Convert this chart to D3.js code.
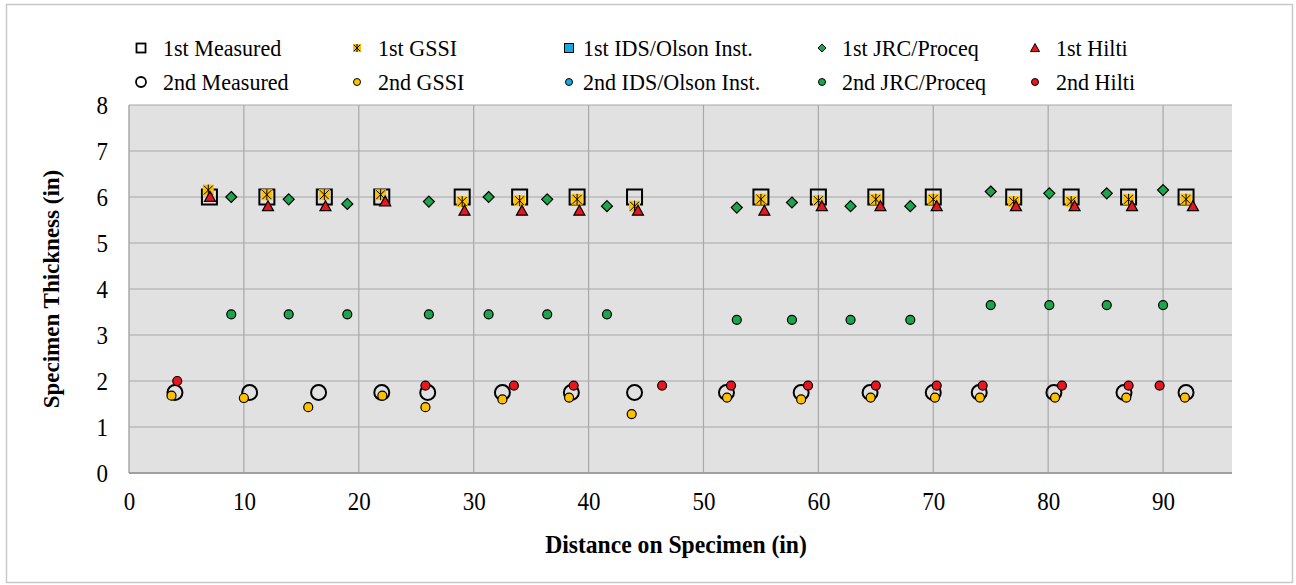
<!DOCTYPE html>
<html>
<head>
<meta charset="utf-8">
<script src="https://cdn.jsdelivr.net/npm/d3@7/dist/d3.min.js"></script>
<style>
  html, body { margin: 0; padding: 0; background: #ffffff; }
  svg { display: block; }
  text { font-family: "Liberation Serif", "Times New Roman", "DejaVu Serif", serif; fill: #000; }
</style>
</head>
<body>
<svg id="chart" width="1296" height="585"></svg>
<script>
// ---------- data ----------
const xTicks = [0, 10, 20, 30, 40, 50, 60, 70, 80, 90];
const yTicks = [0, 1, 2, 3, 4, 5, 6, 7, 8];

const measured1X = [7, 12, 17, 22, 29, 34, 39, 44, 55, 60, 65, 70, 77, 82, 87, 92];
const measured1Y = [6, 6, 6, 6, 6, 6, 6, 6, 6, 6, 6, 6, 6, 6, 6, 6];

const gssi1X = [6.9, 12, 17, 21.9, 29, 34, 39, 44, 55, 60, 65, 70, 77, 82, 87, 92];
const gssi1Y = [6.15, 6.05, 6.05, 6.05, 5.9, 5.92, 5.95, 5.8, 5.95, 5.92, 5.95, 5.95, 5.9, 5.9, 5.95, 5.95];

const ids1X = [];
const ids1Y = [];

const jrc1X = [8.9, 13.9, 19.0, 26.1, 31.3, 36.4, 41.6, 52.9, 57.7, 62.8, 68.0, 75.0, 80.1, 85.1, 90.0];
const jrc1Y = [6.0, 5.95, 5.85, 5.9, 6.0, 5.95, 5.8, 5.77, 5.88, 5.8, 5.8, 6.12, 6.08, 6.08, 6.15];

const hilti1X = [7.05, 12.1, 17.1, 22.3, 29.2, 34.2, 39.2, 44.3, 55.3, 60.3, 65.4, 70.3, 77.2, 82.3, 87.3, 92.6];
const hilti1Y = [6.0, 5.8, 5.8, 5.9, 5.7, 5.7, 5.7, 5.7, 5.7, 5.8, 5.8, 5.8, 5.8, 5.8, 5.8, 5.8];

const measured2X = [4, 10.5, 16.5, 22, 26, 32.5, 38.5, 44, 52, 58.5, 64.5, 70, 74, 80.5, 86.6, 92];
const measured2Y = [1.75, 1.75, 1.75, 1.75, 1.75, 1.75, 1.75, 1.75, 1.75, 1.75, 1.75, 1.75, 1.75, 1.75, 1.75, 1.75];

const gssi2X = [3.7, 10.0, 15.6, 22.05, 25.8, 32.5, 38.3, 43.75, 52.05, 58.5, 64.55, 70.15, 74.06, 80.6, 86.8, 91.9];
const gssi2Y = [1.68, 1.63, 1.43, 1.68, 1.43, 1.6, 1.64, 1.28, 1.64, 1.6, 1.64, 1.64, 1.64, 1.64, 1.64, 1.64];

const ids2X = [];
const ids2Y = [];

const jrc2X = [8.9, 13.9, 19.0, 26.1, 31.3, 36.4, 41.6, 52.9, 57.7, 62.8, 68.0, 75.0, 80.1, 85.1, 90.0];
const jrc2Y = [3.45, 3.45, 3.45, 3.45, 3.45, 3.45, 3.45, 3.33, 3.33, 3.33, 3.33, 3.65, 3.65, 3.65, 3.65];

const hilti2X = [4.2, 25.8, 33.5, 38.7, 46.4, 52.4, 59.1, 65.0, 70.3, 74.3, 81.2, 87.0, 89.7];
const hilti2Y = [2.0, 1.9, 1.9, 1.9, 1.9, 1.9, 1.9, 1.9, 1.9, 1.9, 1.9, 1.9, 1.9];

const seriesNames = ["1st Measured", "1st GSSI", "1st IDS/Olson Inst.", "1st JRC/Proceq", "1st Hilti",
                     "2nd Measured", "2nd GSSI", "2nd IDS/Olson Inst.", "2nd JRC/Proceq", "2nd Hilti"];

// ---------- styles ----------
const FONT = '"Liberation Serif", "Times New Roman", "DejaVu Serif", serif';
const YELLOW = "#ffc000", GREEN = "#1ca64c", RED = "#e8161e", BLUE = "#18a8e0";

const series = [
  { name: seriesNames[0], xs: measured1X, ys: measured1Y, shape: "square", fill: "none", size: 15, lsize: 9, sw: 2 },
  { name: seriesNames[1], xs: gssi1X, ys: gssi1Y, shape: "star", fill: YELLOW, size: 11, lsize: 8, sw: 1 },
  { name: seriesNames[2], xs: ids1X, ys: ids1Y, shape: "square", fill: BLUE, size: 11, lsize: 9, sw: 1 },
  { name: seriesNames[3], xs: jrc1X, ys: jrc1Y, shape: "diamond", fill: GREEN, size: 11, lsize: 8, sw: 1.2 },
  { name: seriesNames[4], xs: hilti1X, ys: hilti1Y, shape: "triangle", fill: RED, size: 11, lsize: 9, sw: 1.2 },
  { name: seriesNames[5], xs: measured2X, ys: measured2Y, shape: "circle", fill: "none", size: 15, lsize: 10, sw: 2 },
  { name: seriesNames[6], xs: gssi2X, ys: gssi2Y, shape: "circle", fill: YELLOW, size: 9, lsize: 7, sw: 1.2 },
  { name: seriesNames[7], xs: ids2X, ys: ids2Y, shape: "circle", fill: BLUE, size: 9, lsize: 7, sw: 1.2 },
  { name: seriesNames[8], xs: jrc2X, ys: jrc2Y, shape: "circle", fill: GREEN, size: 9, lsize: 7, sw: 1.2 },
  { name: seriesNames[9], xs: hilti2X, ys: hilti2Y, shape: "circle", fill: RED, size: 9, lsize: 7, sw: 1.2 }
];

// ---------- layout ----------
const svg = d3.select("#chart");
const L = 129, R = 1232, T = 105, B = 473;
const x = d3.scaleLinear().domain([0, 96]).range([L, R]);
const y = d3.scaleLinear().domain([0, 8]).range([B, T]);
const SX = 0.92; // horizontal text compression seen in the reference

// outer border
svg.append("rect").attr("x", 6.5).attr("y", 4.5).attr("width", 1286).attr("height", 578)
  .attr("fill", "#fff").attr("stroke", "#c9c9c9").attr("stroke-width", 1.5);

// plot area
svg.append("rect").attr("x", L).attr("y", T).attr("width", R - L).attr("height", B - T).attr("fill", "#e1e1e1");

// grid
svg.append("g").selectAll("line").data(yTicks.filter(d => d > 0)).join("line")
  .attr("x1", L).attr("x2", R).attr("y1", d => y(d)).attr("y2", d => y(d))
  .attr("stroke", "#a8a8a8").attr("stroke-width", 1.2);
svg.append("g").selectAll("line").data(xTicks.filter(d => d > 0)).join("line")
  .attr("x1", d => x(d)).attr("x2", d => x(d)).attr("y1", T).attr("y2", B)
  .attr("stroke", "#a8a8a8").attr("stroke-width", 1.2);
// axis lines
svg.append("line").attr("x1", L).attr("x2", L).attr("y1", T).attr("y2", B).attr("stroke", "#a8a8a8").attr("stroke-width", 1.5);
svg.append("line").attr("x1", L).attr("x2", R).attr("y1", B).attr("y2", B).attr("stroke", "#a0a0a0").attr("stroke-width", 2);

// axes (labels only)
const xAxis = svg.append("g").attr("transform", `translate(0,${B})`)
  .call(d3.axisBottom(x).tickValues(xTicks).tickSize(0).tickPadding(0).tickFormat(d3.format("d")));
xAxis.attr("font-family", FONT);
xAxis.select(".domain").remove();
xAxis.selectAll("text").attr("y", 0).attr("dy", null).attr("x", 0)
  .attr("font-size", 25).attr("font-family", FONT)
  .attr("transform", `translate(0,37) scale(${SX},1)`);

const yAxis = svg.append("g").attr("transform", `translate(${L},0)`)
  .call(d3.axisLeft(y).tickValues(yTicks).tickSize(0).tickPadding(0).tickFormat(d3.format("d")));
yAxis.attr("font-family", FONT);
yAxis.select(".domain").remove();
yAxis.selectAll("text").attr("x", 0).attr("dy", null).attr("y", 0)
  .attr("font-size", 25).attr("font-family", FONT)
  .attr("text-anchor", "end")
  .attr("transform", `translate(-21,8) scale(${SX},1)`);

// axis titles
svg.append("text").attr("text-anchor", "middle").attr("font-weight", "bold").attr("font-size", 25)
  .attr("font-family", FONT)
  .attr("transform", `translate(676,553) scale(0.945,1)`).text("Distance on Specimen (in)");
svg.append("text").attr("text-anchor", "middle").attr("font-weight", "bold").attr("font-size", 23)
  .attr("font-family", FONT)
  .attr("transform", `translate(59,289) rotate(-90)`).text("Specimen Thickness (in)");

// ---------- markers ----------
function drawMarker(g, shape, size, fill, sw) {
  const h = size / 2;
  if (shape === "square") {
    g.append("rect").attr("x", -h).attr("y", -h).attr("width", size).attr("height", size)
      .attr("fill", fill).attr("stroke", "#000").attr("stroke-width", sw);
  } else if (shape === "circle") {
    g.append("circle").attr("r", h).attr("fill", fill).attr("stroke", "#000").attr("stroke-width", sw);
  } else if (shape === "diamond") {
    g.append("path").attr("d", `M0,${-h}L${h},0L0,${h}L${-h},0Z`)
      .attr("fill", fill).attr("stroke", "#000").attr("stroke-width", sw);
  } else if (shape === "triangle") {
    g.append("path").attr("d", `M0,${-h}L${h},${h * 0.8}L${-h},${h * 0.8}Z`)
      .attr("fill", fill).attr("stroke", "#000").attr("stroke-width", sw);
  } else if (shape === "star") {
    g.append("rect").attr("x", -h).attr("y", -h).attr("width", size).attr("height", size).attr("fill", fill);
    const k = h * 0.8;
    g.append("path").attr("d", `M${-k},${-k}L${k},${k}M${k},${-k}L${-k},${k}M0,${-h}L0,${h}`)
      .attr("stroke", "#000").attr("stroke-width", sw).attr("fill", "none");
  }
}

const plot = svg.append("g");
series.forEach(s => {
  const pts = s.xs.map((v, i) => [v, s.ys[i]]);
  plot.append("g").selectAll("g").data(pts).join("g")
    .attr("transform", d => `translate(${x(d[0])},${y(d[1])})`)
    .each(function () { drawMarker(d3.select(this), s.shape, s.size, s.fill, s.sw); });
});

// ---------- legend ----------
const legMarkX = [141, 357, 569, 822, 1035];
const legTextX = [163, 378, 583, 842, 1056];
const legRowY = [48, 82];
series.forEach((s, i) => {
  const col = i % 5, row = Math.floor(i / 5);
  const g = svg.append("g").attr("transform", `translate(${legMarkX[col]},${legRowY[row]})`);
  drawMarker(g, s.shape, s.lsize, s.fill, s.fill === "none" ? 1.8 : 1);
  svg.append("text").attr("font-size", 24).attr("font-family", FONT)
    .attr("transform", `translate(${legTextX[col]},${legRowY[row] + 8}) scale(${SX},1)`)
    .text(s.name);
});
</script>
</body>
</html>
